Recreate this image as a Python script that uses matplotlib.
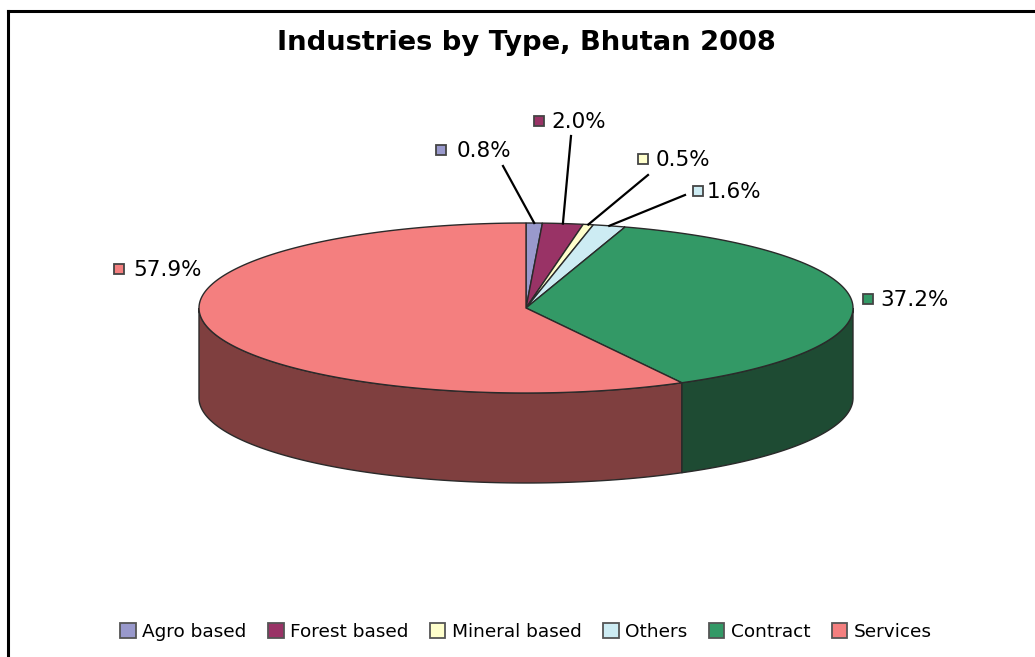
import matplotlib.pyplot as plt
import numpy as np
from matplotlib.patches import Polygon, Patch

categories = ['Agro based', 'Forest based', 'Mineral based', 'Others', 'Contract', 'Services']
shares = [0.8, 2.0, 0.5, 1.6, 37.2, 57.9]
colors = ['#9999cc', '#993366', '#ffffcc', '#cdecf3', '#339966', '#f47f7f']
side_colors = ['#4d4d66', '#4d1a33', '#808066', '#667778', '#1e4b33', '#7f3f3f']
title = 'Industries by Type, Bhutan 2008'

# pie geometry in pixel coords (y down)
cx, cy = 526, 308
rx, ry = 327, 85
depth = 90

# label layout: marker x, y, text x
label_pos = [(441, 150, 457), (539, 121, 551), (643, 159, 656),
             (698, 191, 707), (868, 299, 880), (119, 269, 133)]
leader_end = [(503, 166), (571, 136), (648, 175), (685, 195), None, None]


def rim(deg, dy=0):
    t = np.radians(deg)
    return cx + rx * np.sin(t), cy - ry * np.cos(t) + dy


fig = plt.figure(figsize=(10.35, 6.57), dpi=100)
ax = fig.add_axes([0, 0, 1, 1])
ax.set_xlim(0, 1035)
ax.set_ylim(657, 0)
ax.axis('off')

total = sum(shares)
bounds = np.concatenate([[0], np.cumsum(shares) / total * 360])
edge = '#2a2a2a'

# side walls (front half only, 90..270 deg)
for i in range(len(shares)):
    a, b = max(bounds[i], 90), min(bounds[i + 1], 270)
    if b <= a:
        continue
    t = np.linspace(a, b, 120)
    xs, ys = rim(t)
    xb, yb = rim(t[::-1], depth)
    pts = np.column_stack([np.concatenate([xs, xb]), np.concatenate([ys, yb])])
    ax.add_patch(Polygon(pts, closed=True, fc=side_colors[i], ec=edge, lw=1.0))

# top face
for i in range(len(shares)):
    t = np.linspace(bounds[i], bounds[i + 1], 200)
    xs, ys = rim(t)
    pts = np.column_stack([np.concatenate([[cx], xs]), np.concatenate([[cy], ys])])
    ax.add_patch(Polygon(pts, closed=True, fc=colors[i], ec=edge, lw=1.0))

# labels
for i, v in enumerate(shares):
    mid = (bounds[i] + bounds[i + 1]) / 2
    if leader_end[i] is not None:
        x0, y0 = rim(mid)
        ax.plot([x0, leader_end[i][0]], [y0, leader_end[i][1]], color='black', lw=1.6)
    mx, my, tx = label_pos[i]
    ax.plot(mx, my, marker='s', ms=7.5, mfc=colors[i], mec='#444444', mew=1.3)
    ax.text(tx, my + 1, f'{v:.1f}%', va='center', ha='left', fontsize=15.5)

ax.text(526, 50, title, ha='center', va='baseline', fontsize=19.7, fontweight='bold')

handles = [Patch(fc=c, ec='#555555', lw=1.3) for c in colors]
ax.legend(handles, categories, loc='center', bbox_to_anchor=(526 / 1035, 1 - 632 / 657),
          ncol=6, frameon=False, fontsize=13.3, handlelength=0.85, handleheight=0.85,
          handletextpad=0.35, columnspacing=1.15)

# chart frame (only left and top edges are in view)
ax.plot([8, 8], [657, 11], color='black', lw=2.2, solid_capstyle='projecting')
ax.plot([8, 1035], [11, 11], color='black', lw=2.2, solid_capstyle='projecting')

fig.savefig('out.png', dpi=100)
